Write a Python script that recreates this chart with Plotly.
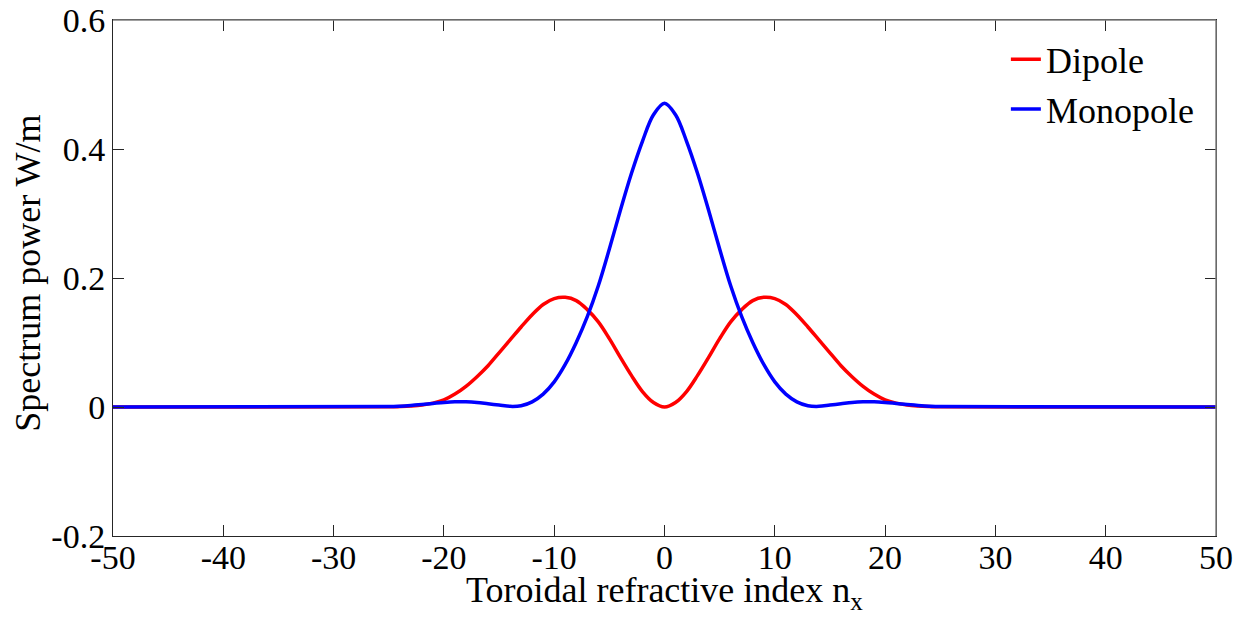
import plotly.graph_objects as go

# |n_x| grid (curves are symmetric about 0)
nx_half = list(range(0, 26))
dipole_half = [0.0, 0.007, 0.024, 0.049, 0.077, 0.106, 0.132, 0.151, 0.165, 0.170,
               0.168, 0.159, 0.143, 0.124, 0.104, 0.084, 0.064, 0.047, 0.032, 0.020,
               0.011, 0.006, 0.003, 0.0015, 0.0007, 0.0002]
monopole_half = [0.471, 0.453, 0.412, 0.362, 0.305, 0.245, 0.188, 0.140, 0.100, 0.066,
                 0.039, 0.020, 0.008, 0.002, 0.001, 0.003, 0.005, 0.007, 0.008, 0.008,
                 0.007, 0.0055, 0.004, 0.0025, 0.0013, 0.0006]

nx = [-50] + [-v for v in nx_half[:0:-1]] + nx_half + [50]
dipole = [0.0] + dipole_half[:0:-1] + dipole_half + [0.0]
monopole = [0.0] + monopole_half[:0:-1] + monopole_half + [0.0]

x_ticks = [-50, -40, -30, -20, -10, 0, 10, 20, 30, 40, 50]
x_ticktext = ["-50", "-40", "-30", "-20", "-10", "0", "10", "20", "30", "40", "50"]
y_ticks = [-0.2, 0, 0.2, 0.4, 0.6]
y_ticktext = ["-0.2", "0", "0.2", "0.4", "0.6"]

FONT = "Liberation Serif"

fig = go.Figure()
fig.add_trace(go.Scatter(x=nx, y=dipole, mode="lines", name="Dipole",
                         line=dict(color="#ff0000", width=3.5, shape="spline", smoothing=1.0)))
fig.add_trace(go.Scatter(x=nx, y=monopole, mode="lines", name="Monopole",
                         line=dict(color="#0000ff", width=3.5, shape="spline", smoothing=1.0)))

fig.update_layout(
    width=1244, height=626,
    margin=dict(l=113, r=28, t=20, b=90, autoexpand=False),
    paper_bgcolor="white", plot_bgcolor="white",
    font=dict(family=FONT, size=34, color="black"),
    showlegend=True,
    legend=dict(x=0.8095, y=0.982, xanchor="left", yanchor="top",
                bgcolor="rgba(0,0,0,0)", borderwidth=0,
                font=dict(family=FONT, size=36), itemwidth=30, tracegroupgap=0),
    xaxis=dict(range=[-50, 50], tickvals=x_ticks, ticktext=x_ticktext,
               ticks="inside", ticklen=11, tickcolor="#262626", tickwidth=1,
               showline=True, linecolor="#262626", linewidth=1, mirror="ticks",
               showgrid=False, zeroline=False, automargin=False,
               ticklabelstandoff=-9,
               tickfont=dict(family=FONT, size=34)),
    yaxis=dict(range=[-0.2, 0.6], tickvals=y_ticks, ticktext=y_ticktext,
               ticks="inside", ticklen=11, tickcolor="#262626", tickwidth=1,
               showline=True, linecolor="#262626", linewidth=1, mirror="ticks",
               showgrid=False, zeroline=False, automargin=False,
               tickfont=dict(family=FONT, size=34)),
)

# axis titles
fig.add_annotation(text="Toroidal refractive index n<sub>x</sub>", xref="paper", yref="paper",
                   x=0.5, y=-0.062, xanchor="center", yanchor="top", showarrow=False,
                   font=dict(family=FONT, size=36))
fig.add_annotation(text="Spectrum power W/m", xref="paper", yref="paper",
                   x=-0.0771, y=0.51, xanchor="center", yanchor="middle", textangle=-90,
                   showarrow=False, font=dict(family=FONT, size=36))

# gray top and right frame edges
fig.add_shape(type="line", xref="paper", yref="paper", x0=0, x1=1, y0=1, y1=1,
              line=dict(color="#808080", width=1.5), layer="above")
fig.add_shape(type="line", xref="paper", yref="paper", x0=1, x1=1, y0=0, y1=1,
              line=dict(color="#808080", width=1.5), layer="above")

fig.write_html("out.html", config={"displayModeBar": False},
               post_script="document.body.style.margin='0';document.body.style.overflow='hidden';")
